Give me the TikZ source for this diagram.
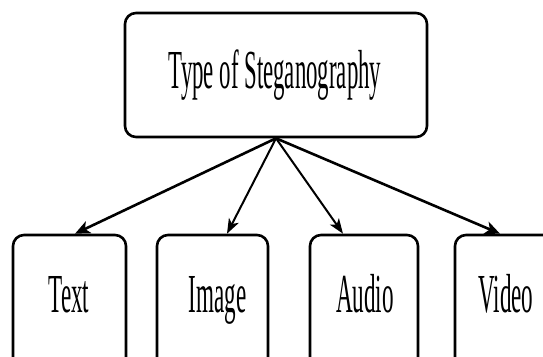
\documentclass[tikz,border=0pt]{standalone}
\usepackage{graphicx}
\usepackage{fontspec}
\setmainfont{Liberation Serif}
\usetikzlibrary{arrows.meta}
\begin{document}
\begin{tikzpicture}[x=1pt,y=-1pt,
  boxstyle/.style={draw=black, line width=2.6pt, rounded corners=11pt, fill=white, inner sep=0pt},
  lbl/.style={inner sep=0pt, anchor=base, font=\fontsize{55}{60}\selectfont},
  conn/.style={line width=2.6pt, -{Stealth[length=15pt,width=13pt,inset=4pt]}},
  thinconn/.style={line width=2pt, -{Stealth[length=15pt,width=11pt,inset=4pt]}}]
\useasboundingbox (0,0) rectangle (543,356);
\clip (0,0) rectangle (543,356);
\node[boxstyle, minimum width=302pt, minimum height=124pt] (top) at (276,75) {};
\node[lbl] (ttop) at (275,88) {\scalebox{0.415}[1]{Type of Steganography}};
\node[boxstyle, minimum width=113pt, minimum height=150pt] (b1) at (69.5,310) {};
\node[boxstyle, minimum width=111pt, minimum height=150pt] (b2) at (212.5,310) {};
\node[boxstyle, minimum width=108pt, minimum height=150pt] (b3) at (364,310) {};
\node[boxstyle, minimum width=112pt, minimum height=150pt] (b4) at (511,310) {};
\node[lbl] (l1) at (69,312) {\scalebox{0.42}[1]{Text}};
\node[lbl] (l2) at (217.5,312) {\scalebox{0.42}[1]{Image}};
\node[lbl] (l3) at (365,312) {\scalebox{0.42}[1]{Audio}};
\node[lbl] (l4) at (506,312) {\scalebox{0.42}[1]{Video}};
\coordinate (src) at (top.south);
\draw[conn] (src) -- ([xshift=5.5pt]b1.north);
\draw[thinconn] (src) -- ([xshift=14.5pt]b2.north);
\draw[thinconn] (src) -- ([xshift=-21pt]b3.north);
\draw[conn] (src) -- ([xshift=-11pt]b4.north);
\end{tikzpicture}
\end{document}
